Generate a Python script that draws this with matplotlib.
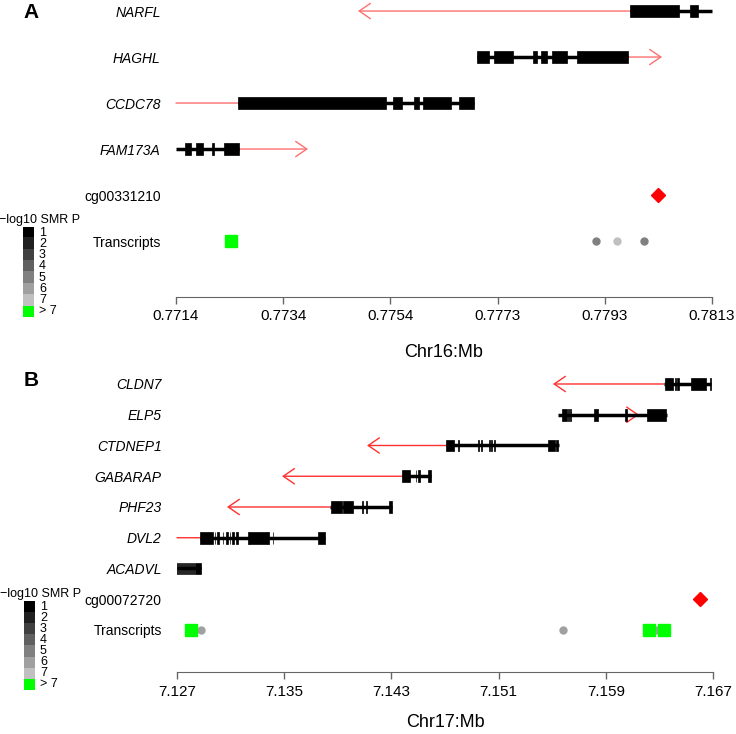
import numpy as np
import matplotlib
matplotlib.use("Agg")
import matplotlib.pyplot as plt
from matplotlib.colors import ListedColormap

plt.rcParams['font.family'] = ['Liberation Sans', 'DejaVu Sans']

# colour key for -log10 SMR P (level 8 means "> 7")
key_labels = ["1", "2", "3", "4", "5", "6", "7", "> 7"]
key_colors = ["#000000", "#202020", "#404040", "#606060",
              "#808080", "#a0a0a0", "#c0c0c0", "#00ff00"]

# ---- panel A : chr16 ----
a_genes = ["NARFL", "HAGHL", "CCDC78", "FAM173A"]
a_spans = [(0.779786, 0.7813), (0.776960, 0.779749),
           (0.772545, 0.776904), (0.7714, 0.772564)]
a_exons = [
    [(0.779786, 0.780691), (0.780894, 0.781042)],
    [(0.776960, 0.777181), (0.777274, 0.777624), (0.777994, 0.778068),
     (0.778142, 0.778252), (0.778345, 0.778622), (0.778807, 0.779749)],
    [(0.772545, 0.775279), (0.775408, 0.775574), (0.775796, 0.775888),
     (0.775962, 0.776479), (0.776627, 0.776904)],
    [(0.771566, 0.771677), (0.771769, 0.771899), (0.772065, 0.772102),
     (0.772287, 0.772564)],
]
a_arrows = [(0.779786, 0.774762), (0.779749, 0.780377),
            (0.772545, 0.7714), (0.772564, 0.773838)]
a_heads = [True, True, False, True]
a_probe = "cg00331210"
a_probe_pos = 0.780297
a_tx_pos = [0.772407, 0.779158, 0.779545, 0.780044]
a_tx_level = [8, 5, 7, 5]

# ---- panel B : chr17 ----
b_genes = ["CLDN7", "ELP5", "CTDNEP1", "GABARAP", "PHF23", "DVL2", "ACADVL"]
b_spans = [(7.16334, 7.16685), (7.15543, 7.16357), (7.14707, 7.15551),
           (7.14379, 7.14596), (7.13842, 7.14304), (7.12872, 7.13804),
           (7.12700, 7.12879)]
b_exons = [
    [(7.16342, 7.16401), (7.16416, 7.16424), (7.16435, 7.16443),
     (7.16536, 7.16648), (7.16678, 7.16685)],
    [(7.15573, 7.15610), (7.15618, 7.15625), (7.15636, 7.15644),
     (7.15812, 7.15842), (7.16043, 7.16058), (7.16207, 7.16349)],
    [(7.14707, 7.14767), (7.14800, 7.14807), (7.14946, 7.14954),
     (7.14969, 7.14976), (7.15028, 7.15036), (7.15043, 7.15051),
     (7.15066, 7.15073), (7.15469, 7.15521), (7.15532, 7.15540)],
    [(7.14379, 7.14439), (7.14480, 7.14487), (7.14502, 7.14510),
     (7.14573, 7.14596)],
    [(7.13849, 7.13931), (7.13939, 7.14013), (7.14084, 7.14091),
     (7.14107, 7.14115), (7.14281, 7.14304)],
    [(7.12872, 7.12969), (7.12980, 7.12987), (7.13002, 7.13010),
     (7.13040, 7.13047), (7.13069, 7.13077), (7.13092, 7.13099),
     (7.13114, 7.13122), (7.13144, 7.13152), (7.13230, 7.13237),
     (7.13237, 7.13372), (7.13375, 7.13383), (7.13413, 7.13420),
     (7.13752, 7.13804)],
    [(7.12700, 7.12707), (7.12715, 7.12722), (7.12730, 7.12737),
     (7.12745, 7.12752), (7.12760, 7.12767), (7.12775, 7.12782),
     (7.12790, 7.12797), (7.12804, 7.12811), (7.12819, 7.12826),
     (7.12834, 7.12879)],
]
b_arrows = [(7.16334, 7.15506), (7.15954, 7.16148), (7.14707, 7.14118),
            (7.14379, 7.13484), (7.13842, 7.13073), (7.12872, 7.12700), None]
b_heads = [True, True, True, True, True, False, False]
b_probe = "cg00072720"
b_probe_pos = 7.16603
b_tx_pos = [7.12879, 7.15581, 7.16282, 7.12804, 7.16226, 7.16331]
b_tx_level = [6, 6, 6, 8, 8, 8]

W, H = 736, 734
fig = plt.figure(figsize=(W / 100, H / 100), dpi=100)


def px_axes(x0, y0, x1, y1):
    return fig.add_axes([x0 / W, 1 - y1 / H, (x1 - x0) / W, (y1 - y0) / H])


def draw_panel(ax, genes, spans, exons, arrows, heads, probe, probe_pos,
               tx_pos, tx_level, xlim, fmt, xlabel, ylim, exon_h, red, lpad):
    n = len(genes)
    for i, g in enumerate(genes):
        r = n + 1 - i
        if arrows[i] is not None:
            style = "->,head_length=0.8,head_width=0.55" if heads[i] else "-"
            ax.annotate("", xy=(arrows[i][1], r), xytext=(arrows[i][0], r),
                        arrowprops=dict(arrowstyle=style, color=red, lw=1,
                                        shrinkA=0, shrinkB=0, mutation_scale=10),
                        zorder=1, annotation_clip=False)
        ax.plot(spans[i], [r, r], color="black", lw=2.5,
                solid_capstyle="butt", zorder=2, clip_on=False)
        ax.broken_barh([(s, e - s) for s, e in exons[i]],
                       (r - exon_h / 2, exon_h), facecolors="black",
                       edgecolor="black", linewidth=0.5, zorder=3, clip_on=False)

    ax.plot([probe_pos], [1], marker="D", color="red", ms=7, ls="none",
            clip_on=False)
    for x, lv in zip(tx_pos, tx_level):
        if lv > 7:
            ax.plot([x], [0], marker="s", color=key_colors[7], ms=8,
                    ls="none", zorder=4)
        else:
            ax.plot([x], [0], marker="o", color=key_colors[lv - 1], ms=5,
                    ls="none", zorder=3)

    ax.set_xlim(xlim)
    ax.set_ylim(ylim)
    ticks = np.linspace(xlim[0], xlim[1], 6)
    ax.set_xticks(ticks, [fmt % t for t in ticks])
    ax.tick_params(axis="x", length=5, width=1, color="#666666",
                   labelsize=11, pad=4)
    ax.set_xlabel(xlabel, fontsize=13, labelpad=lpad)

    rows = list(range(n + 1, -1, -1))
    labels = genes + [probe, "Transcripts"]
    ax.set_yticks(rows, labels)
    ax.tick_params(axis="y", length=0, pad=11, labelsize=10)
    for k, t in enumerate(ax.get_yticklabels()):
        if k < n:
            t.set_fontstyle("italic")

    for s in ["top", "right", "left"]:
        ax.spines[s].set_visible(False)
    ax.spines["bottom"].set_color("#666666")


def draw_key(x0, y0, x1, y1):
    kx = px_axes(x0, y0, x1, y1)
    kx.imshow(np.arange(len(key_colors)).reshape(-1, 1),
              cmap=ListedColormap(key_colors), aspect="auto",
              extent=(0, 1, len(key_colors), 0), interpolation="nearest")
    for k, lab in enumerate(key_labels):
        kx.text(1.45, k + 0.5, lab, ha="left", va="center", fontsize=9,
                clip_on=False)
    kx.text(-2.2, -0.65, "\u2212log10 SMR P", ha="left", va="center",
            fontsize=9, clip_on=False)
    kx.axis("off")


# panel A
axA = px_axes(176, 0, 712, 297)
draw_panel(axA, a_genes, a_spans, a_exons, a_arrows, a_heads, a_probe,
           a_probe_pos, a_tx_pos, a_tx_level, (0.7714, 0.7813), "%.4f",
           "Chr16:Mb", (-1.217, 5.24), 0.255, "#ff7070", 15)
draw_key(23, 227, 34, 317)

# panel B
axB = px_axes(177, 370, 713, 672)
draw_panel(axB, b_genes, b_spans, b_exons, b_arrows, b_heads, b_probe,
           b_probe_pos, b_tx_pos, b_tx_level, (7.127, 7.167), "%.3f",
           "Chr17:Mb", (-1.366, 8.455), 0.38, "#ff3030", 11)
draw_key(24, 601, 35, 690)

fig.text(31 / W, 1 - 12 / H, "A", ha="center", va="center",
         fontsize=15, fontweight="bold")
fig.text(31 / W, 1 - 380 / H, "B", ha="center", va="center",
         fontsize=15, fontweight="bold")

fig.savefig("out.png", dpi=100)
